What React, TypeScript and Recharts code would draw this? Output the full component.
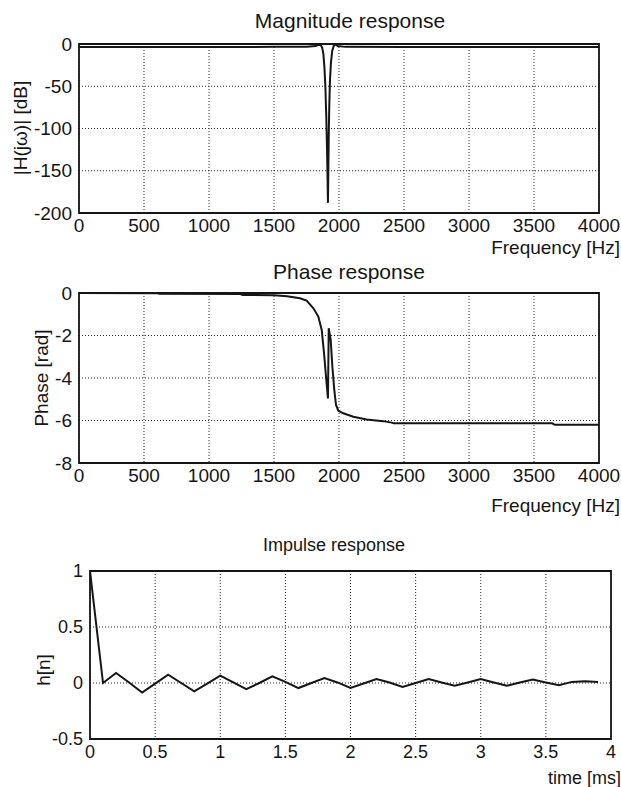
import React from "react";
import { LineChart, Line, XAxis, YAxis, CartesianGrid, ReferenceArea } from "recharts";

// ---- Magnitude response ----
const magFreq = [0, 500, 1000, 1500, 1750, 1820, 1845, 1860, 1870, 1880, 1888, 1895, 1902, 1908, 1912, 1915, 1918, 1921, 1925, 1930, 1938, 1948, 1960, 1975, 1990, 2050, 2500, 3000, 3500, 4000];
const magDb = [-3.5, -3.5, -3.5, -3.4, -3.2, -2.5, -0.8, -1.5, -4, -12, -28, -50, -85, -125, -160, -188, -150, -110, -75, -45, -22, -8, -2, -0.6, -2.5, -3.4, -3.5, -3.5, -3.5, -3.5];
const freqTicks = [0, 500, 1000, 1500, 2000, 2500, 3000, 3500, 4000];
const magTicks = [-200, -150, -100, -50, 0];

// ---- Phase response ----
const phaseFreq = [0, 600, 620, 1240, 1260, 1500, 1600, 1700, 1751, 1803, 1841, 1867, 1885, 1900, 1915, 1921, 1936, 1949, 1964, 1977, 1995, 2033, 2110, 2213, 2340, 2405, 2420, 3640, 3660, 4000];
const phaseRad = [0, -0.01, -0.04, -0.05, -0.09, -0.11, -0.15, -0.25, -0.36, -0.72, -1.11, -1.74, -2.84, -3.94, -4.96, -1.66, -2.2, -3.47, -4.57, -5.27, -5.54, -5.66, -5.82, -5.95, -6.03, -6.1, -6.13, -6.13, -6.2, -6.2];
const phaseTicks = [-8, -6, -4, -2, 0];

// ---- Impulse response ----
const impulseT = [0, 0.1, 0.2, 0.3, 0.4, 0.5, 0.6, 0.7, 0.8, 0.9, 1.0, 1.1, 1.2, 1.3, 1.4, 1.5, 1.6, 1.7, 1.8, 1.9, 2.0, 2.1, 2.2, 2.3, 2.4, 2.5, 2.6, 2.7, 2.8, 2.9, 3.0, 3.1, 3.2, 3.3, 3.4, 3.5, 3.6, 3.7, 3.8, 3.9];
const impulseH = [1, 0, 0.09, 0.005, -0.085, -0.005, 0.075, 0, -0.075, -0.005, 0.065, 0.005, -0.055, 0, 0.06, 0.01, -0.045, 0, 0.045, 0.005, -0.045, -0.005, 0.035, 0.005, -0.035, 0, 0.035, 0.005, -0.025, 0.005, 0.035, 0.005, -0.025, 0.005, 0.03, 0.005, -0.02, 0.01, 0.015, 0.01];
const timeTicks = [0, 0.5, 1, 1.5, 2, 2.5, 3, 3.5, 4];
const hTicks = [-0.5, 0, 0.5, 1];

const FONT = '"Liberation Sans", Arial, Helvetica, sans-serif';
const INK = "#151515";

const magData = magFreq.map((f, i) => ({ x: f, y: magDb[i] }));
const phaseData = phaseFreq.map((f, i) => ({ x: f, y: phaseRad[i] }));
const impulseData = impulseT.map((t, i) => ({ x: t, y: impulseH[i] }));

type PanelProps = {
  top: number;
  data: { x: number; y: number }[];
  xDomain: [number, number];
  yDomain: [number, number];
  xTicks: number[];
  yTicks: number[];
  marginTop: number;
  marginRight: number;
  yAxisWidth: number;
  xAxisHeight: number;
  fontSize: number;
};

function Panel(p: PanelProps) {
  const tickStyle = { fill: INK, fontSize: p.fontSize, fontFamily: FONT };
  return (
    <div style={{ position: "absolute", left: 0, top: p.top }}>
      <LineChart
        width={621}
        height={250}
        data={p.data}
        margin={{ top: p.marginTop, right: p.marginRight, bottom: 0, left: 0 }}
      >
        <CartesianGrid stroke="#2a2a2a" strokeDasharray="1 2" strokeWidth={1} />
        <XAxis
          dataKey="x"
          type="number"
          domain={p.xDomain}
          ticks={p.xTicks}
          interval={0}
          allowDataOverflow
          height={p.xAxisHeight}
          tickLine={false}
          axisLine={false}
          tick={tickStyle}
          tickMargin={0}
        />
        <YAxis
          dataKey="y"
          type="number"
          domain={p.yDomain}
          ticks={p.yTicks}
          interval={0}
          allowDataOverflow
          width={p.yAxisWidth}
          tickLine={false}
          axisLine={false}
          tick={tickStyle}
          tickMargin={1}
        />
        <ReferenceArea
          x1={p.xDomain[0]}
          x2={p.xDomain[1]}
          y1={p.yDomain[0]}
          y2={p.yDomain[1]}
          fill="none"
          fillOpacity={0}
          stroke={INK}
          strokeWidth={1.8}
          ifOverflow="visible"
        />
        <Line
          type="linear"
          dataKey="y"
          stroke={INK}
          strokeWidth={2}
          dot={false}
          isAnimationActive={false}
        />
      </LineChart>
    </div>
  );
}

const textBase: React.CSSProperties = {
  position: "absolute",
  fontFamily: FONT,
  color: INK,
  whiteSpace: "nowrap",
  lineHeight: 1,
};

function CenterText({ x, y, size, children }: { x: number; y: number; size: number; children: React.ReactNode }) {
  return (
    <div style={{ ...textBase, left: x, top: y, fontSize: size, transform: "translate(-50%, -50%)" }}>{children}</div>
  );
}

function RightText({ right, y, size, children }: { right: number; y: number; size: number; children: React.ReactNode }) {
  return (
    <div style={{ ...textBase, right: 621 - right, top: y, fontSize: size, transform: "translateY(-50%)" }}>{children}</div>
  );
}

function VText({ x, y, size, children }: { x: number; y: number; size: number; children: React.ReactNode }) {
  return (
    <div style={{ ...textBase, left: x, top: y, fontSize: size, transform: "translate(-50%, -50%) rotate(-90deg)" }}>{children}</div>
  );
}

export default function App() {
  return (
    <div style={{ position: "absolute", left: 0, top: 0, width: 621, height: 787, background: "#fff", overflow: "hidden" }}>
      <Panel
        top={0}
        data={magData}
        xDomain={[0, 4000]}
        yDomain={[-200, 0]}
        xTicks={freqTicks}
        yTicks={magTicks}
        marginTop={44}
        marginRight={22}
        yAxisWidth={79}
        xAxisHeight={37}
        fontSize={19}
      />
      <Panel
        top={250}
        data={phaseData}
        xDomain={[0, 4000]}
        yDomain={[-8, 0]}
        xTicks={freqTicks}
        yTicks={phaseTicks}
        marginTop={43}
        marginRight={22}
        yAxisWidth={79}
        xAxisHeight={37}
        fontSize={19}
      />
      <Panel
        top={530}
        data={impulseData}
        xDomain={[0, 4]}
        yDomain={[-0.5, 1]}
        xTicks={timeTicks}
        yTicks={hTicks}
        marginTop={41}
        marginRight={10}
        yAxisWidth={90}
        xAxisHeight={41}
        fontSize={18}
      />

      <CenterText x={350} y={20} size={21}>Magnitude response</CenterText>
      <VText x={20} y={128} size={19}>|H(jω)| [dB]</VText>
      <RightText right={620} y={247} size={19}>Frequency [Hz]</RightText>

      <CenterText x={349} y={271} size={21}>Phase response</CenterText>
      <VText x={41} y={378} size={19}>Phase [rad]</VText>
      <RightText right={620} y={505} size={19}>Frequency [Hz]</RightText>

      <CenterText x={334} y={545} size={18}>Impulse response</CenterText>
      <VText x={43} y={670} size={19}>h[n]</VText>
      <RightText right={621} y={778} size={18}>time [ms]</RightText>
    </div>
  );
}
